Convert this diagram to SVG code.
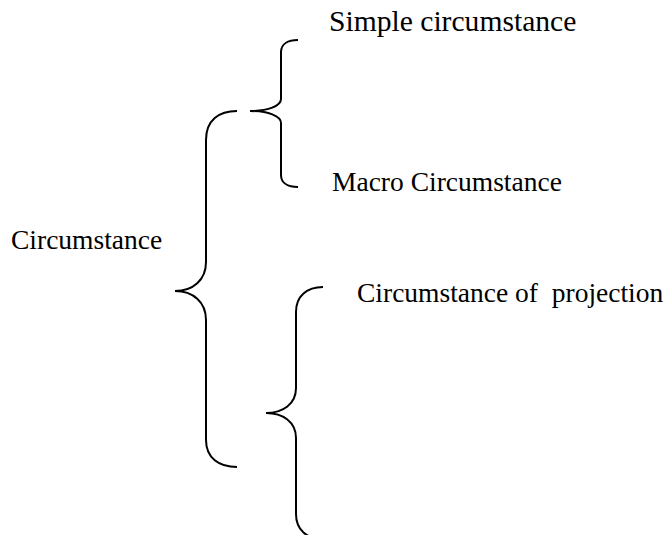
<svg xmlns="http://www.w3.org/2000/svg" width="667" height="535" viewBox="0 0 667 535">
  <style>
    text { fill: #000; font-family: "Liberation Serif", "Times New Roman", serif; font-size: 27.5px; }
    .big { font-size: 29.6px; }
    .brace { fill: none; stroke: #000; stroke-width: 2; }
  </style>
  <rect width="667" height="535" fill="#fff"/>
  <g id="connectors">
    <!-- brace from the root label to its two groups -->
    <path class="brace" d="M237,111 C219,111 206,120 206,140 L206,262 C206,280 193,291 175,291 C193,291 206,302 206,320 L206,440 C206,458 219,467 237,467"/>
    <!-- brace for simple / macro -->
    <path class="brace" d="M298,40 C288,40 281,44 281,52 L281,99 C281,106 268,111 250,111 C268,111 281,116 281,123 L281,175 C281,183 288,187 298,187"/>
    <!-- brace for projection, running past the bottom edge -->
    <path class="brace" d="M323,287 C307,287 296,296 296,312 L296,388 C296,404 283,413 266,413 C283,413 296,422 296,438 L296,514 C296,530 307,539 323,539"/>
  </g>
  <g id="root"><text x="11" y="249">Circumstance</text></g>
  <g id="simple"><text class="big" x="329" y="31">Simple circumstance</text></g>
  <g id="macro"><text x="332" y="191">Macro Circumstance</text></g>
  <g id="projection"><text x="357" y="302" xml:space="preserve">Circumstance of  projection</text></g>
</svg>
